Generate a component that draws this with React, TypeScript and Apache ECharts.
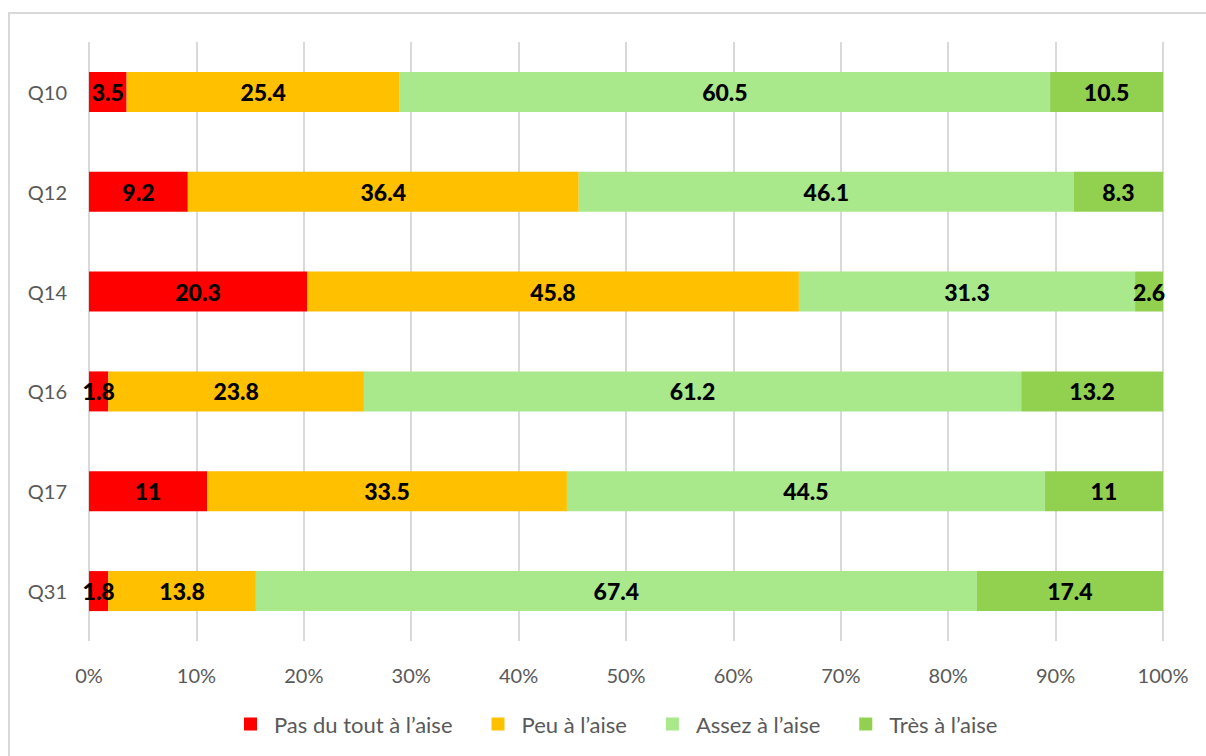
import React, { useEffect, useRef } from "react";
import * as echarts from "echarts";

const categories = ["Q10", "Q12", "Q14", "Q16", "Q17", "Q31"];
const seriesNames = ["Pas du tout à l’aise", "Peu à l’aise", "Assez à l’aise", "Très à l’aise"];
const pasDuTout = [3.5, 9.2, 20.3, 1.8, 11, 1.8];
const peu = [25.4, 36.4, 45.8, 23.8, 33.5, 13.8];
const assez = [60.5, 46.1, 31.3, 61.2, 44.5, 67.4];
const tres = [10.5, 8.3, 2.6, 13.2, 11, 17.4];
const colors = ["#FF0000", "#FFC000", "#A9E88B", "#92D050"];
const xTicks = [0, 10, 20, 30, 40, 50, 60, 70, 80, 90, 100];

export default function App() {
  const ref = useRef<HTMLDivElement>(null);
  useEffect(() => {
    if (!ref.current) return;
    const chart = echarts.init(ref.current, null, { renderer: "svg" });
    const all = [pasDuTout, peu, assez, tres];
    const sums = categories.map((_, i) => all.reduce((s, arr) => s + arr[i], 0));
    const font = "Lato, 'Open Sans', sans-serif";
    chart.setOption({
      animation: false,
      backgroundColor: "#ffffff",
      grid: { left: 89, right: 43, top: 42, bottom: 115, containLabel: false },
      legend: {
        bottom: 16,
        left: 239,
        itemWidth: 13,
        itemHeight: 13,
        itemGap: 39,
        icon: "rect",
        textStyle: { fontFamily: font, fontSize: 22, color: "#595959", padding: [0, 0, 0, 12] },
        data: seriesNames,
      },
      xAxis: {
        type: "value",
        min: 0,
        max: 100,
        interval: 10,
        axisLine: { show: false },
        axisTick: { show: false },
        splitLine: { show: true, lineStyle: { color: "#D9D9D9", width: 2 } },
        axisLabel: {
          fontFamily: font,
          fontSize: 20,
          color: "#595959",
          margin: 24,
          formatter: (v: number) => (xTicks.includes(v) ? v + "%" : ""),
        },
      },
      yAxis: {
        type: "category",
        inverse: true,
        data: categories,
        axisLine: { show: false },
        axisTick: { show: false },
        axisLabel: { fontFamily: font, fontSize: 20, color: "#595959", margin: 22 },
      },
      series: all.map((arr, si) => ({
        name: seriesNames[si],
        type: "bar",
        stack: "total",
        barWidth: 40,
        itemStyle: { color: colors[si] },
        label: {
          show: true,
          position: "inside",
          fontFamily: font,
          fontWeight: 900,
          fontSize: 23,
          color: "#000000",
          formatter: (p: any) => String(arr[p.dataIndex]),
        },
        data: arr.map((v, i) => (v / sums[i]) * 100),
      })),
      graphic: [
        {
          type: "rect",
          shape: { x: 9, y: 13, width: 1300, height: 800 },
          style: { fill: "none", stroke: "#D9D9D9", lineWidth: 2 },
          silent: true,
        },
      ],
    });
    return () => chart.dispose();
  }, []);
  return <div ref={ref} style={{ width: 1206, height: 756, position: "absolute", left: 0, top: 0 }} />;
}
